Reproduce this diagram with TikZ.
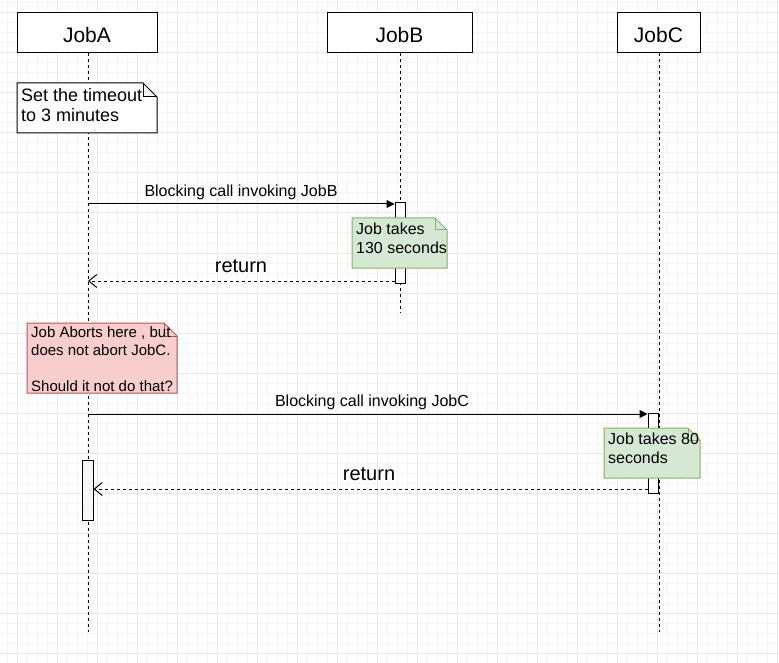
\documentclass[tikz,border=0pt]{standalone}
\usepackage{fontspec}
\setmainfont{Liberation Sans}
\usetikzlibrary{arrows.meta}
\definecolor{gridmin}{HTML}{F4F4F4}
\definecolor{gridmaj}{HTML}{E8E8E8}
\definecolor{greenfill}{HTML}{D5E8D4}
\definecolor{greenline}{HTML}{82B366}
\definecolor{redfill}{HTML}{F8CECC}
\definecolor{redline}{HTML}{B85450}
\newcommand{\notefold}[4]{% node, fold, fill, draw
  \draw[line width=1pt, fill=#3, draw=#4]
    (#1.north west) -- ([xshift=-#2]#1.north east) -- ([yshift=-#2]#1.north east)
    -- (#1.south east) -- (#1.south west) -- cycle;
  \draw[line width=1pt, draw=#4]
    ([xshift=-#2]#1.north east) -- ([xshift=-#2,yshift=-#2]#1.north east) -- ([yshift=-#2]#1.north east);
}
\begin{document}
\begin{tikzpicture}[x=1pt,y=-1pt,
  headbox/.style={draw, line width=1pt, fill=white, minimum height=40pt, inner sep=0pt,
    text height=20pt, text depth=0pt, font=\fontsize{21}{25}\selectfont},
  notebox/.style={inner sep=0pt, outer sep=0pt},
  life/.style={line width=1pt, dash pattern=on 3pt off 3pt},
  actbox/.style={draw, line width=1pt, fill=white, inner sep=0pt, minimum width=10pt},
  call/.style={line width=1pt, -{Triangle[length=8pt,width=8pt]}},
  ret/.style={line width=1pt, dash pattern=on 3pt off 3pt, -{Straight Barb[length=8pt,width=13pt]}},
  lbl/.style={anchor=base, inner sep=0pt, font=\fontsize{16}{19}\selectfont},
  retlbl/.style={anchor=base, inner sep=0pt, font=\fontsize{20}{24}\selectfont},
  notetext/.style={anchor=base west, inner sep=0pt, align=left}
]
\useasboundingbox (0,0) rectangle (779,663);
\fill[white] (0,0) rectangle (779,663);
% grid
\foreach \x in {7,17,...,779} \draw[gridmin, line width=1pt] (\x,0) -- (\x,663);
\foreach \y in {3,13,...,663} \draw[gridmin, line width=1pt] (0,\y) -- (779,\y);
\foreach \x in {17,57,...,779} \draw[gridmaj, line width=1pt] (\x,0) -- (\x,663);
\foreach \y in {13,53,...,663} \draw[gridmaj, line width=1pt] (0,\y) -- (779,\y);

% heads
\node[headbox, minimum width=140pt] (headA) at (87,33) {JobA};
\node[headbox, minimum width=145pt] (headB) at (399.5,33) {JobB};
\node[headbox, minimum width=83pt] (headC) at (658.5,33) {JobC};

% lifelines
\coordinate (endA) at (88,632);
\coordinate (endB) at (400,313);
\coordinate (endC) at (659,632);
\draw[life] (headA.south -| endA) -- (endA);
\draw[life] (headB.south -| endB) -- (endB);
\draw[life] (headC.south -| endC) -- (endC);

% note A
\node[notebox, minimum width=140pt, minimum height=50pt] (noteA) at (87,108) {};
\notefold{noteA}{14pt}{white}{black}
\node[notetext, font=\fontsize{18}{20}\selectfont] (noteAtxt) at (21,122) {Set the timeout\\to 3 minutes};

% activations
\node[actbox, minimum height=80pt] (actB) at (400,243) {};
\node[actbox, minimum height=80pt] (actC) at (653,453) {};
\node[actbox, minimum width=11pt, minimum height=60pt, fill=gray!7] (actA) at (87.5,490) {};

% call 1
\coordinate (c1) at (88,204);
\draw[call] (c1) -- (c1 -| actB.west);
\node[lbl] (c1lbl) at (241,197) {Blocking call invoking JobB};

% note B
\node[notebox, minimum width=95pt, minimum height=50pt] (noteB) at (399.5,243) {};
\notefold{noteB}{12pt}{greenfill}{greenline}
\node[notetext, font=\fontsize{16}{19}\selectfont] (noteBtxt) at (356,253) {Job takes\\130 seconds};

% return 1
\coordinate (r1) at (88,281);
\draw[ret] (r1 -| actB.west) -- (r1);
\node[retlbl] (r1lbl) at (241,272) {return};

% note red
\node[notebox, minimum width=150pt, minimum height=70pt] (noteR) at (102,358) {};
\notefold{noteR}{13pt}{redfill}{redline}
\node[notetext, font=\fontsize{15}{18}\selectfont] (noteRtxt) at (31,391) {Job Aborts here , but\\does not abort JobC.\\[18pt]Should it not do that?};

% call 2
\coordinate (c2) at (88,414);
\draw[call] (c2) -- (c2 -| actC.west);
\node[lbl] (c2lbl) at (372,406) {Blocking call invoking JobC};

% note C
\node[notebox, minimum width=96pt, minimum height=50pt] (noteC) at (652,453) {};
\notefold{noteC}{12pt}{greenfill}{greenline}
\node[notetext, font=\fontsize{16}{19}\selectfont] (noteCtxt) at (608,463) {Job takes 80\\seconds};

% return 2
\coordinate (r2) at (88,489);
\draw[ret] (r2 -| actC.west) -- (r2 -| actA.east);
\node[retlbl] (r2lbl) at (369,480) {return};
\end{tikzpicture}
\end{document}
